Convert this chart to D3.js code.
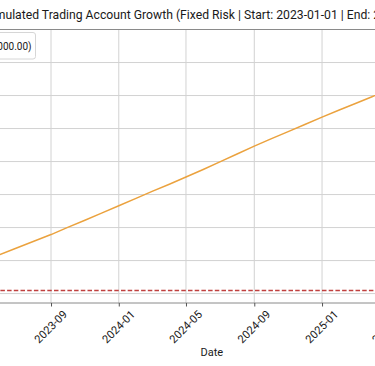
<!DOCTYPE html>
<html>
<head>
<meta charset="utf-8">
<script src="https://cdn.jsdelivr.net/npm/d3@7"></script>
<style>
  html, body { margin: 0; padding: 0; background: #fff; }
  svg { display: block; font-family: Roboto, "Noto Sans", sans-serif; }
</style>
</head>
<body>
<svg id="chart" width="375" height="366"></svg>
<script>
// ---- data ----
const dates = [
  "2023-01-01","2023-02-01","2023-03-01","2023-04-01","2023-05-01","2023-06-01",
  "2023-07-01","2023-08-01","2023-09-01","2023-10-01","2023-11-01","2023-12-01",
  "2024-01-01","2024-02-01","2024-03-01","2024-04-01","2024-05-01","2024-06-01",
  "2024-07-01","2024-08-01","2024-09-01","2024-10-01","2024-11-01","2024-12-01",
  "2025-01-01","2025-02-01","2025-03-01","2025-04-01","2025-05-01","2025-06-01",
  "2025-07-01","2025-08-01","2025-09-01","2025-10-01","2025-11-01","2025-12-01"
];
const balance = [
  10455, 11545, 12530, 13621, 14697, 15909,
  16894, 17924, 18939, 20020, 21110, 22180,
  23300, 24420, 25480, 26560, 27650, 28800,
  29950, 31150, 32330, 33430, 34540, 35620,
  36727, 37803, 38758, 39818, 40833, 41970,
  43030, 44121, 45212, 46273, 47364, 48121
];
const initialBalance = 10455;
const xTickLabels = ["2023-01","2023-05","2023-09","2024-01","2024-05","2024-09","2025-01","2025-05","2025-09"];
const yTicks = [10000, 15000, 20000, 25000, 30000, 35000, 40000, 45000, 50000];
const titleText = "Simulated Trading Account Growth (Fixed Risk | Start: 2023-01-01 | End: 2025-12-01)";
const legendText = "Account Balance (Risk per Trade: $1,000.00)";
const xLabel = "Date";

// ---- layout ----
const W = 375, H = 366;
const plot = { left: -113.5, right: 537.1, top: 29.5, bottom: 303 };

const parse = d3.timeParse("%Y-%m-%d");
const pts = dates.map((d, i) => ({ date: parse(d), v: balance[i] }));

const dExt = d3.extent(pts, d => d.date);
const dSpan = dExt[1] - dExt[0];
const x = d3.scaleTime()
  .domain([new Date(+dExt[0] - 0.05 * dSpan), new Date(+dExt[1] + 0.05 * dSpan)])
  .range([plot.left, plot.right]);

const vExt = d3.extent(balance);
const vSpan = vExt[1] - vExt[0];
const y = d3.scaleLinear()
  .domain([vExt[0] - 0.05 * vSpan, vExt[1] + 0.05 * vSpan])
  .range([plot.bottom, plot.top]);

const svg = d3.select("#chart");
svg.append("rect").attr("width", W).attr("height", H).attr("fill", "#fff");

const xTickDates = xTickLabels.map(s => d3.timeParse("%Y-%m")(s));

// grid
const grid = svg.append("g");
grid.selectAll("line.h").data(yTicks).join("line")
  .attr("x1", plot.left).attr("x2", plot.right)
  .attr("y1", d => y(d)).attr("y2", d => y(d))
  .attr("stroke", "#d2d2d2").attr("stroke-width", 1);
grid.selectAll("line.v").data(xTickDates).join("line")
  .attr("x1", d => x(d)).attr("x2", d => x(d))
  .attr("y1", plot.top).attr("y2", plot.bottom)
  .attr("stroke", "#d2d2d2").attr("stroke-width", 1);

// spines
svg.append("rect")
  .attr("x", plot.left).attr("y", plot.top)
  .attr("width", plot.right - plot.left).attr("height", plot.bottom - plot.top)
  .attr("fill", "none").attr("stroke", "#8a8a8a").attr("stroke-width", 1);

// initial balance dashed line
svg.append("line")
  .attr("x1", plot.left).attr("x2", plot.right)
  .attr("y1", y(initialBalance)).attr("y2", y(initialBalance))
  .attr("stroke", "#c0403f").attr("stroke-width", 1.4)
  .attr("stroke-dasharray", "4.5,2.2");

// balance line
svg.append("path").datum(pts)
  .attr("fill", "none").attr("stroke", "#eba23e").attr("stroke-width", 1.5)
  .attr("stroke-linejoin", "round")
  .attr("d", d3.line().x(d => x(d.date)).y(d => y(d.v)));

// x axis
const xAxis = svg.append("g").attr("transform", `translate(0,${plot.bottom})`)
  .call(d3.axisBottom(x).tickValues(xTickDates).tickFormat(d3.timeFormat("%Y-%m")).tickSize(3.5).tickSizeOuter(0));
xAxis.select(".domain").remove();
xAxis.selectAll(".tick line").attr("stroke", "#555").attr("stroke-width", 1);
xAxis.selectAll(".tick text")
  .attr("y", 0).attr("dy", 0)
  .attr("text-anchor", "middle")
  .attr("dominant-baseline", "central")
  .attr("transform", "translate(-0.5,24) rotate(-45)")
  .attr("font-size", 11.2).attr("fill", "#1a1a1a")
  .attr("font-family", "Roboto, sans-serif");

// x label
svg.append("text")
  .attr("x", (plot.left + plot.right) / 2).attr("y", 352)
  .attr("text-anchor", "middle").attr("dominant-baseline", "central")
  .attr("font-size", 11).attr("fill", "#1a1a1a")
  .text(xLabel);

// title
svg.append("text")
  .attr("x", (plot.left + plot.right) / 2).attr("y", 14.5)
  .attr("text-anchor", "middle").attr("dominant-baseline", "central")
  .attr("font-size", 12.2).attr("fill", "#1a1a1a")
  .text(titleText);

// legend
const lg = svg.append("g");
lg.append("rect")
  .attr("x", -200).attr("y", 32.5).attr("width", 235.5).attr("height", 26.5)
  .attr("rx", 2.5)
  .attr("fill", "#fff").attr("fill-opacity", 0.9)
  .attr("stroke", "#d6d6d6").attr("stroke-width", 1);
lg.append("text")
  .attr("x", 31.5).attr("y", 46.5)
  .attr("text-anchor", "end").attr("dominant-baseline", "central")
  .attr("font-size", 10).attr("fill", "#1a1a1a")
  .text(legendText);
</script>
</body>
</html>
